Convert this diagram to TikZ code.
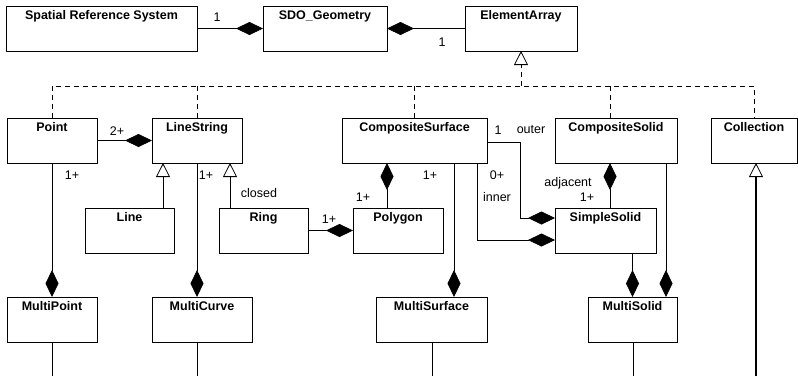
\documentclass[tikz,border=0pt]{standalone}
\usepackage{fontspec}
\setmainfont{Liberation Sans}
\usetikzlibrary{positioning,arrows.meta}
\begin{document}
\begin{tikzpicture}[x=1pt,y=-1pt,line width=0.8pt,
	every node/.style={font=\fontsize{12.5pt}{15pt}\selectfont},
	cls/.style={draw,anchor=north west,inner sep=0pt,outer sep=0pt,text height=13pt,text depth=32pt,font=\fontsize{12.5pt}{15pt}\selectfont\bfseries},
	lbl/.style={inner sep=0pt},
	comp/.style={-{Diamond[length=27pt,width=13pt]}},
	gen/.style={-{Triangle[open,length=14pt,width=14pt,line width=0.8pt]}},
	dep/.style={dash pattern=on 5pt off 4pt}]
		\useasboundingbox (0,0) rectangle (798,376);

		\node[cls,minimum width=191pt] (srs) at (6,6) {Spatial Reference System};
		\node[cls,minimum width=124pt] (sdo) [right=66pt of srs] {SDO\_Geometry};
		\node[cls,minimum width=112pt] (ea) [right=78pt of sdo] {ElementArray};

		\node[cls,minimum width=90pt] (pt) at (7,118) {Point};
		\node[cls,minimum width=90pt] (ls) [right=55pt of pt] {LineString};
		\node[cls,minimum width=145pt] (csurf) [right=100pt of ls] {CompositeSurface};
		\node[cls,minimum width=122pt] (csol) [right=68pt of csurf] {CompositeSolid};
		\node[cls,minimum width=86pt] (coll) [right=34pt of csol] {Collection};

		\node[cls,minimum width=89pt] (ln) at (85,208) {Line};
		\node[cls,minimum width=89pt] (ring) [right=45pt of ln] {Ring};
		\node[cls,minimum width=90pt] (poly) [right=45pt of ring] {Polygon};
		\node[cls,minimum width=101pt] (ssol) [right=112pt of poly] {SimpleSolid};

		\node[cls,minimum width=90pt] (mpt) at (7,297) {MultiPoint};
		\node[cls,minimum width=100pt] (mcur) [right=55pt of mpt] {MultiCurve};
		\node[cls,minimum width=111pt] (msurf) [right=124pt of mcur] {MultiSurface};
		\node[cls,minimum width=89pt] (msol) [right=101pt of msurf] {MultiSolid};

		\coordinate (split) at (521,86);
		\coordinate (mptend) at (52,376);
		\coordinate (mcurend) at (197,376);
		\coordinate (msurfend) at (432,376);
		\coordinate (msolend) at (633,376);
		\coordinate (collend) at (756,376);

		\node[lbl] (m1) at (217,17) {1};
		\node[lbl] (m2) at (442,42) {1};
		\node[lbl] (m3) at (117,131) {2+};
		\node[lbl] (m4) at (72,175) {1+};
		\node[lbl] (m5) at (206,175) {1+};
		\node[lbl] (m6) at (259,193) {closed};
		\node[lbl] (m7) at (329,219) {1+};
		\node[lbl] (m8) at (363,197) {1+};
		\node[lbl] (m9) at (430,175) {1+};
		\node[lbl] (m10) at (498,130) {1};
		\node[lbl] (m11) at (531,130) {outer};
		\node[lbl] (m12) at (497,175) {0+};
		\node[lbl] (m13) at (497,197) {inner};
		\node[lbl] (m14) at (568,183) {adjacent};
		\node[lbl] (m15) at (587,197) {1+};

		\draw[comp] (srs) -- (sdo);
		\draw[comp] (ea) -- (sdo);

		\draw[dep] (pt.north) |- (coll.north |- split) -- (coll.north);
		\draw[dep] (ls.north) -- (ls.north |- split);
		\draw[dep] (csurf.north) -- (csurf.north |- split);
		\draw[dep] (csol.north -| 610,0) -- (split -| 610,0);
		\draw[dep,gen] (split) -- (ea.south -| split);

		\draw[comp] (pt) -- (ls);
		\draw[gen] (ln.north -| 163,0) -- (ls.south -| 163,0);
		\draw[gen] (ring.north -| 230,0) -- (ls.south -| 230,0);
		\draw[comp] (ring) -- (poly);
		\draw[comp] (poly.north -| 387,0) -- (csurf.south -| 387,0);
		\draw[comp] (csurf.east |- 0,142) -- ++(33,0) |- (ssol.west |- 0,218);
		\draw[comp] (csurf.south -| 477,0) |- (ssol.west |- 0,240);
		\draw[comp] (ssol.north -| 610,0) -- (csol.south -| 610,0);

		\draw[comp] (pt.south) -- (mpt.north);
		\draw[comp] (ls.south) -- (mcur.north -| ls.south);
		\draw[comp] (csurf.south -| 454,0) -- (msurf.north -| 454,0);
		\draw[comp] (ssol.south -| msol.north) -- (msol.north);
		\draw[comp] (csol.south -| 666,0) -- (msol.north -| 666,0);

		\draw (mpt.south) -- (mptend);
		\draw (mcur.south -| mcurend) -- (mcurend);
		\draw (msurf.south -| msurfend) -- (msurfend);
		\draw (msol.south -| msolend) -- (msolend);
		\draw[gen,line width=2pt] (collend) -- (coll.south -| collend);
	\end{tikzpicture}
\end{document}
